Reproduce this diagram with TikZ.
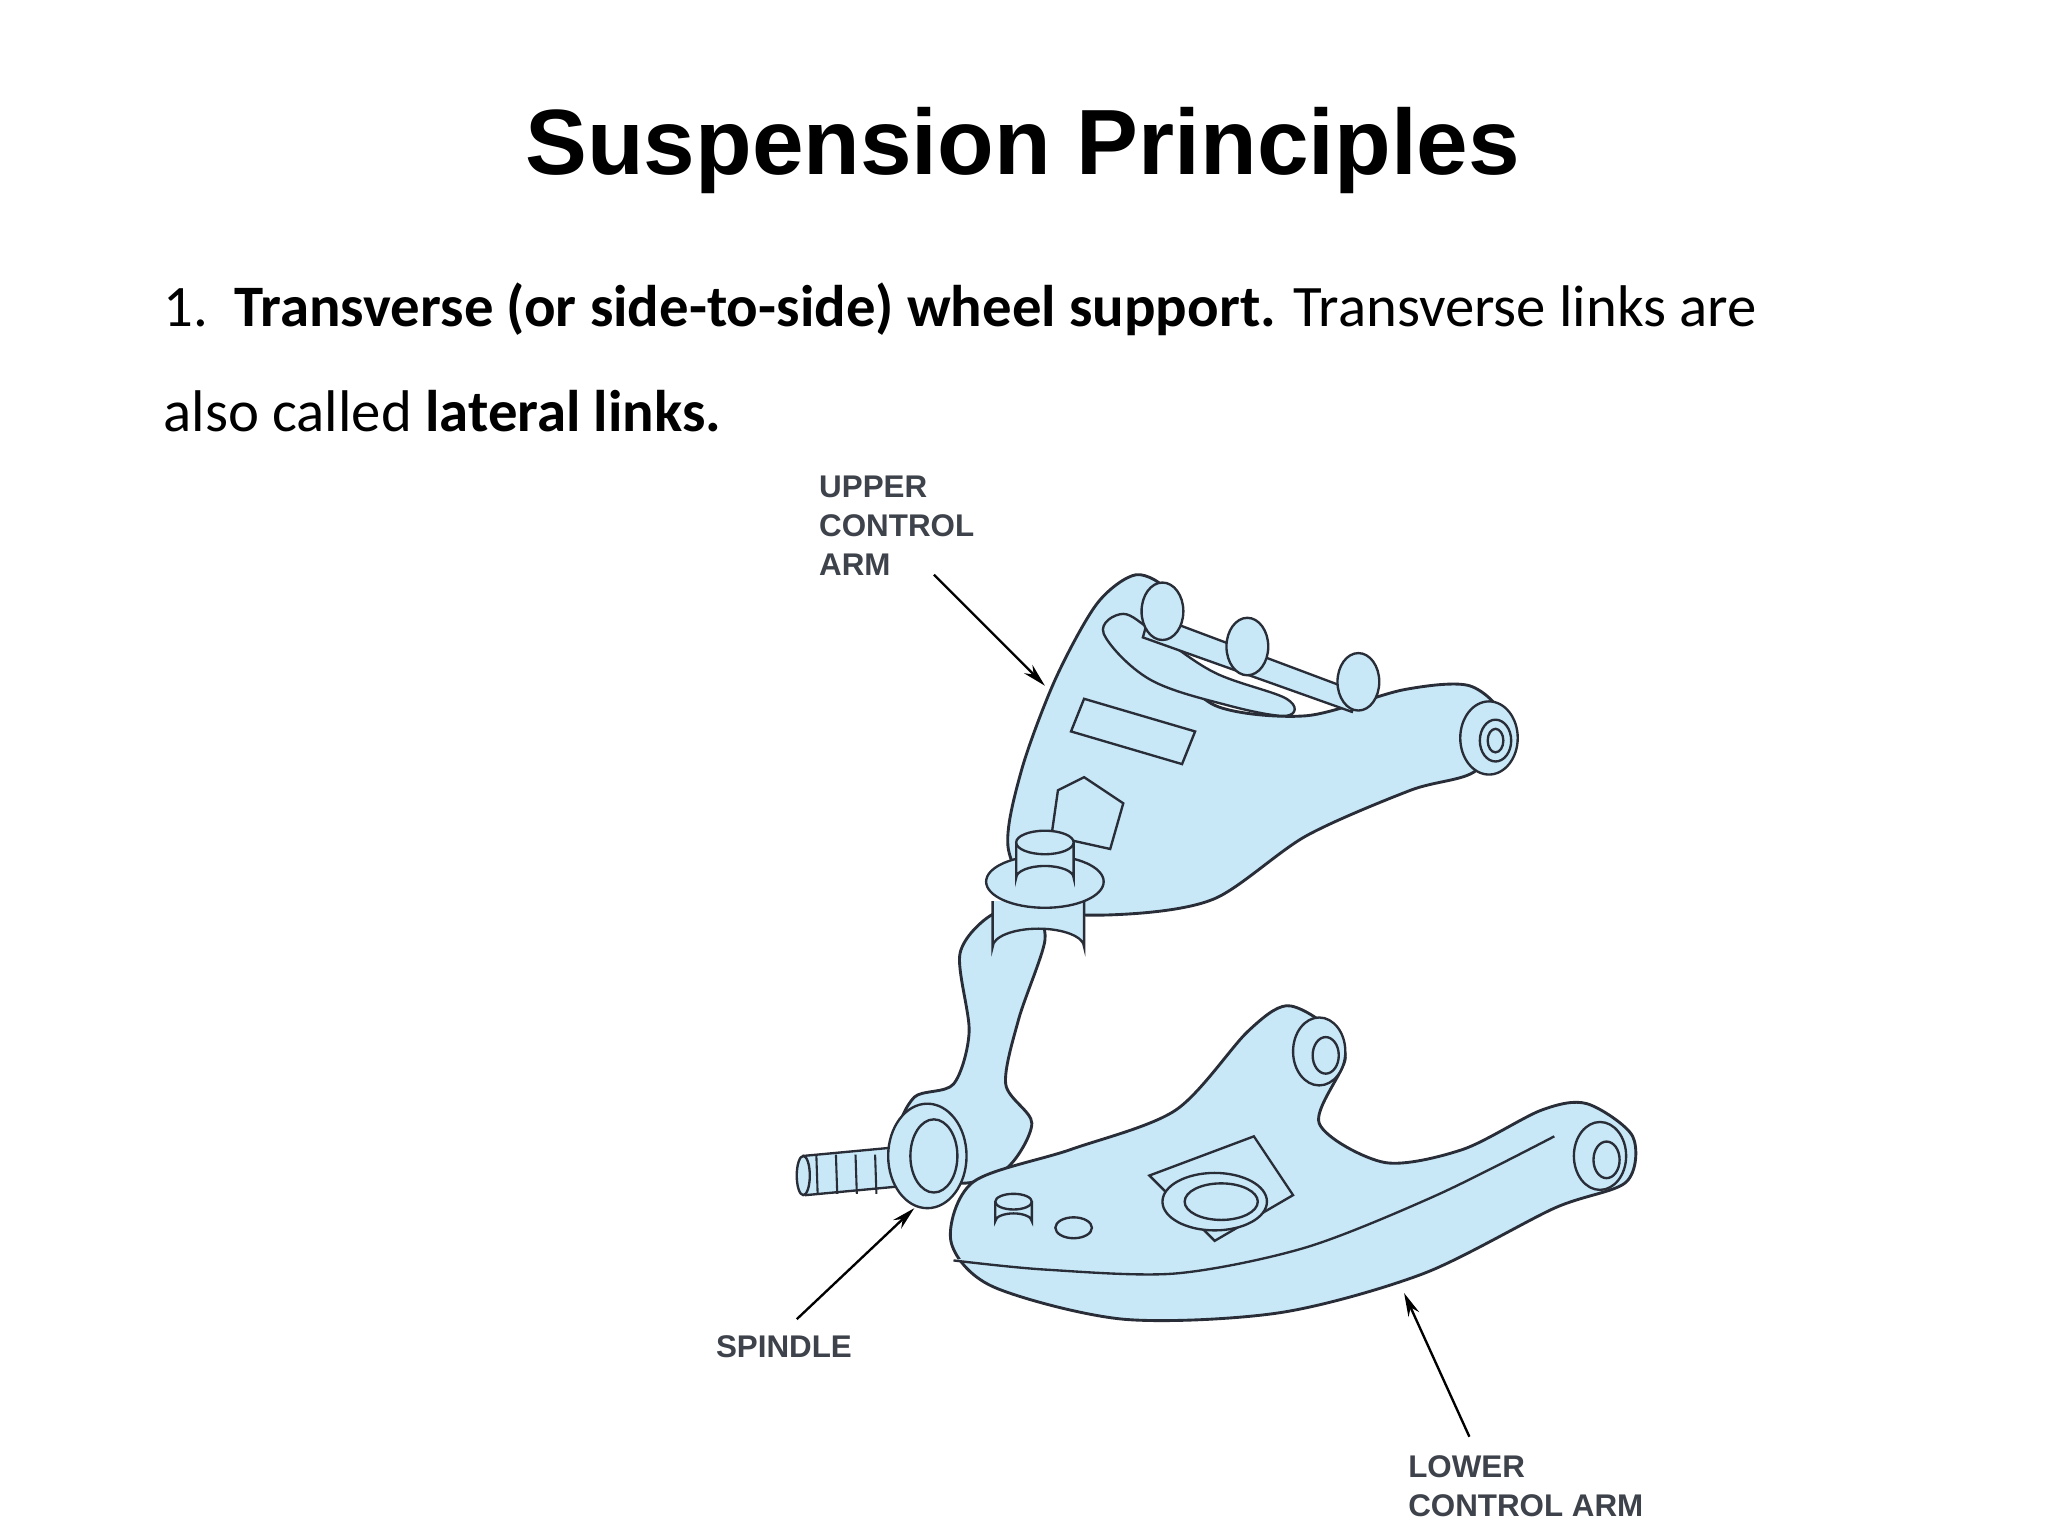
\documentclass[tikz,border=0pt]{standalone}
\usepackage{fontspec}
\setmainfont{Liberation Sans}
\newfontfamily\bodyfnt{Carlito}
\usetikzlibrary{arrows.meta}
\definecolor{part}{RGB}{200,232,248}
\definecolor{ink}{RGB}{40,45,55}
\begin{document}
\begin{tikzpicture}[x=1pt,y=-1pt,
  body/.style={fill=part,draw=ink,line width=2.2pt,line join=round},
  detail/.style={draw=ink,line width=1.8pt,fill=part},
  lbl/.style={anchor=north west,align=left,font=\fontsize{24}{30}\selectfont\bfseries,text=ink!90,inner sep=0pt},
  arr/.style={draw=black,line width=1.8pt,-{Stealth[length=18pt,width=9pt]}}]
\useasboundingbox (0,0) rectangle (1568,1176);
\fill[white] (0,0) rectangle (1568,1176);
\node[font=\fontsize{71}{76}\selectfont\bfseries] (title) at (783,115) {Suspension Principles};
\node[anchor=base west,inner sep=0pt,font=\bodyfnt\fontsize{45}{52}\selectfont] (l1) at (125,250) {1.\ \ \textbf{Transverse (or side-to-side) wheel support.} Transverse links are};
\node[anchor=base west,inner sep=0pt,font=\bodyfnt\fontsize{45}{52}\selectfont] (l2) at (125,330) {also called \textbf{lateral links.}};
% upper arm
\draw[body] plot[smooth cycle,tension=0.5] coordinates {(870,440) (840,462) (808,520) (782,590) (772,650) (800,695) (860,700) (930,688) (1000,640) (1080,605) (1130,590) (1150,550) (1125,525) (1075,528) (1000,548) (930,540) (895,500) (895,455)};
\draw[detail] plot[smooth cycle,tension=0.6] coordinates {(845,485) (880,520) (940,540) (985,548) (985,535) (930,515) (885,485) (860,470)};
\draw[detail] (830,535) -- (915,560) -- (905,585) -- (820,560) -- cycle;
\draw[detail] (810,605) -- (830,595) -- (860,615) -- (850,650) -- (805,640) -- cycle;
% bushings top
\draw[detail] (880,470) -- (1040,530) -- (1035,545) -- (875,488) -- cycle;
\foreach \x/\y in {890/468,955/495,1040/522}{
  \draw[detail] (\x,\y) ellipse (16 and 22);}
\draw[detail] (1140,565) ellipse (22 and 28);
\draw[detail] (1145,567) ellipse (12 and 16);
\draw[detail] (1145,567) ellipse (6 and 9);
% spindle
\draw[body] plot[smooth cycle,tension=0.5] coordinates {(760,700) (735,730) (742,790) (730,830) (700,840) (690,870) (730,905) (770,895) (790,860) (770,830) (780,780) (800,720) (790,700)};
% ball joint upper
\draw[detail] (760,690) -- (760,725) arc (180:360:35 and 14) -- (830,690);
\draw[detail] (800,675) ellipse (45 and 20);
\draw[detail] (778,645) -- (778,672) arc (180:360:22 and 9) -- (822,645);
\draw[detail] (800,645) ellipse (22 and 9);
% lower arm
\draw[body] plot[smooth cycle,tension=0.5] coordinates {(728,950) (760,985) (860,1010) (980,1005) (1090,975) (1190,925) (1245,905) (1250,870) (1215,845) (1180,850) (1120,880) (1060,890) (1010,860) (1030,810) (1015,785) (985,770) (955,790) (900,850) (820,880) (745,905)};
\draw[detail] plot[smooth,tension=0.5] coordinates {(730,965) (800,972) (900,975) (1000,955) (1100,915) (1190,870)};
\draw[detail] (880,900) -- (960,870) -- (990,915) -- (930,950) -- cycle;
\draw[detail] (930,920) ellipse (40 and 22);
\draw[detail] (935,920) ellipse (28 and 14);
\draw[detail] (822,940) ellipse (14 and 8);
\draw[detail] (762,920) -- (762,935) arc (180:360:14 and 6) -- (790,920);
\draw[detail] (776,920) ellipse (14 and 6);
\draw[detail] (1010,805) ellipse (20 and 26);
\draw[detail] (1015,808) ellipse (10 and 14);
\draw[detail] (1225,885) ellipse (20 and 26);
\draw[detail] (1230,888) ellipse (10 and 14);
% stud and hub
\draw[detail] (615,885) -- (690,878) -- (692,908) -- (617,915) -- cycle;
\foreach \x in {625,640,655,670}{\draw[ink,line width=1.6pt] (\x,884) -- (\x+1,914);}
\draw[detail] (615,900) ellipse (5 and 15);
\draw[detail] (710,885) ellipse (30 and 40);
\draw[detail] (715,885) ellipse (18 and 28);
% labels
\node[lbl] (uca) at (627,364) {UPPER\\CONTROL\\ARM};
\node[lbl] (sp) at (548,1022) {SPINDLE};
\node[lbl] (lca) at (1078,1114) {LOWER\\CONTROL ARM};
\coordinate (a1s) at (715,440); \coordinate (a1e) at (800,525);
\coordinate (a2s) at (610,1010); \coordinate (a2e) at (700,925);
\coordinate (a3s) at (1125,1100); \coordinate (a3e) at (1075,990);
\draw[arr] (a1s) -- (a1e);
\draw[arr] (a2s) -- (a2e);
\draw[arr] (a3s) -- (a3e);
\end{tikzpicture}
\end{document}
